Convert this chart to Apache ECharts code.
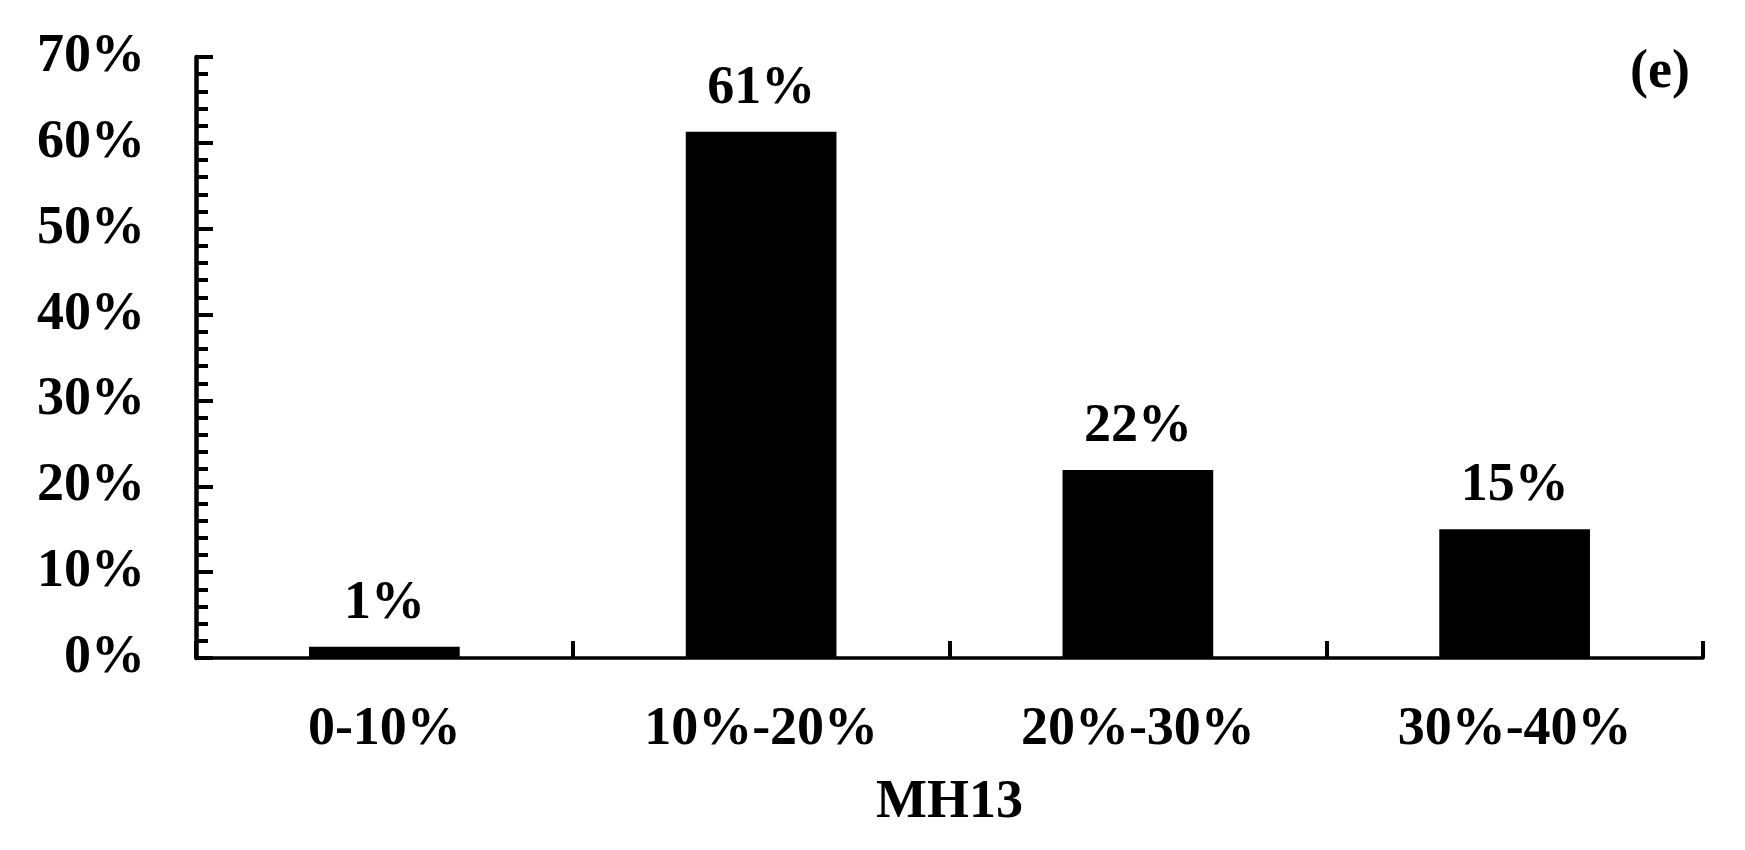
<!DOCTYPE html>
<html>
<head>
<meta charset="utf-8">
<script src="https://cdn.jsdelivr.net/npm/echarts@6/dist/echarts.min.js"></script>
<style>
html,body{margin:0;padding:0;background:#fff;}
#chart{width:1745px;height:850px;}
</style>
</head>
<body>
<div id="chart"></div>
<script>
const categories = ['0-10%', '10%-20%', '20%-30%', '30%-40%'];
const values = [1.3, 61.3, 21.9, 15.0];
const valueLabels = ['1%', '61%', '22%', '15%'];
const xAxisName = 'MH13';
const panelLabel = '(e)';

const FONT = 'Liberation Serif';
const chart = echarts.init(document.getElementById('chart'), null, {renderer: 'canvas'});
chart.setOption({
  backgroundColor: '#ffffff',
  animation: false,
  title: {
    text: panelLabel,
    right: 55,
    top: 46,
    padding: 0,
    textStyle: {fontFamily: FONT, fontSize: 54, fontWeight: 'bold', color: '#000', lineHeight: 54}
  },
  grid: {left: 196, right: 42, top: 57, bottom: 192, containLabel: false},
  xAxis: {
    type: 'category',
    data: categories,
    name: xAxisName,
    nameLocation: 'middle',
    nameGap: 118,
    nameTextStyle: {fontFamily: FONT, fontSize: 54, fontWeight: 'bold', color: '#000', lineHeight: 54},
    axisLine: {lineStyle: {color: '#000', width: 3.5}},
    axisTick: {show: true, inside: true, length: 17, lineStyle: {color: '#000', width: 4}},
    axisLabel: {margin: 45, fontFamily: FONT, fontSize: 54, fontWeight: 'bold', color: '#000', lineHeight: 54},
    splitLine: {show: false}
  },
  yAxis: {
    type: 'value',
    min: 0,
    max: 70,
    interval: 10,
    axisLine: {show: true, lineStyle: {color: '#000', width: 4.5}},
    axisTick: {show: true, inside: true, length: 17, lineStyle: {color: '#000', width: 4}},
    minorTick: {show: true, splitNumber: 5, length: 12, lineStyle: {color: '#000', width: 4}},
    axisLabel: {margin: 51, fontFamily: FONT, fontSize: 54, fontWeight: 'bold', color: '#000',
      formatter: v => v + '%'},
    splitLine: {show: false}
  },
  series: [{
    type: 'bar',
    data: values,
    barWidth: '40%',
    itemStyle: {color: '#000'},
    label: {
      show: true,
      position: 'top',
      distance: 16,
      fontFamily: FONT,
      fontSize: 54,
      fontWeight: 'bold',
      color: '#000',
      lineHeight: 54,
      formatter: p => valueLabels[p.dataIndex]
    }
  }]
});
</script>
</body>
</html>
